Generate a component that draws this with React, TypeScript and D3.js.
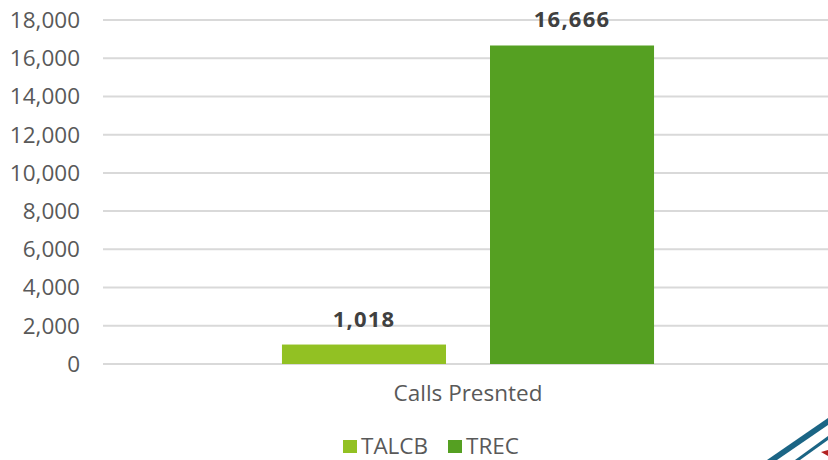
import React from "react";
import * as d3 from "d3";

const categories = ["Calls Presnted"];
const seriesNames = ["TALCB", "TREC"];
const talcbValues = [1018];
const trecValues = [16666];
const yTicks = [0, 2000, 4000, 6000, 8000, 10000, 12000, 14000, 16000, 18000];
const colors = ["#92C123", "#55A022"];

export default function App() {
  const W = 828, H = 460;
  const left = 103, right = 833, top = 20, bottom = 364;
  const y = d3.scaleLinear().domain([0, 18000]).range([bottom, top]);
  const x0 = d3.scaleBand().domain(categories).range([left, right]).paddingInner(0).paddingOuter(0.481);
  const x1 = d3.scaleBand().domain(seriesNames).range([0, x0.bandwidth()]).paddingInner(0.2115);
  const fmt = d3.format(",");
  const font = "'Open Sans', sans-serif";
  const series = [talcbValues, trecValues];
  return (
    <svg width={W} height={H} style={{ position: "absolute", left: 0, top: 0, background: "#fff" }}>
      {yTicks.map((t) => (
        <g key={t}>
          <line x1={left} x2={W} y1={y(t)} y2={y(t)} stroke="#D9D9D9" strokeWidth={2} />
          <text x={80} y={y(t)} dy="0.35em" textAnchor="end" fontFamily={font} fontSize={22.5} fill="#595959">
            {fmt(t)}
          </text>
        </g>
      ))}
      {categories.map((c, ci) => (
        <g key={c} transform={`translate(${x0(c)},0)`}>
          {seriesNames.map((s, si) => {
            const v = series[si][ci];
            const bx = x1(s)!;
            return (
              <g key={s}>
                <rect x={bx} y={y(v)} width={x1.bandwidth()} height={bottom - y(v)} fill={colors[si]} />
                <text x={bx + x1.bandwidth() / 2} y={y(v) - 18} textAnchor="middle" fontFamily={font} fontWeight="bold" fontSize={22} letterSpacing={1.2} fill="#404040">
                  {fmt(v)}
                </text>
              </g>
            );
          })}
          <text x={x0.bandwidth() / 2} y={401} textAnchor="middle" fontFamily={font} fontSize={22.5} fill="#595959">
            {c}
          </text>
        </g>
      ))}
      {seriesNames.map((s, i) => {
        const lx = [343, 448][i];
        return (
          <g key={s}>
            <rect x={lx} y={440} width={14} height={13} fill={colors[i]} />
            <text x={lx + 18} y={454} fontFamily={font} fontSize={22.5} fill="#595959">{s}</text>
          </g>
        );
      })}
      <polygon points="767,460 777,460 828,425 828,418" fill="#1B6585" />
      <polygon points="795,460 800,460 828,440 828,436" fill="#1B6585" />
      <polygon points="821,452 828,450 828,456" fill="#B22222" />
    </svg>
  );
}
